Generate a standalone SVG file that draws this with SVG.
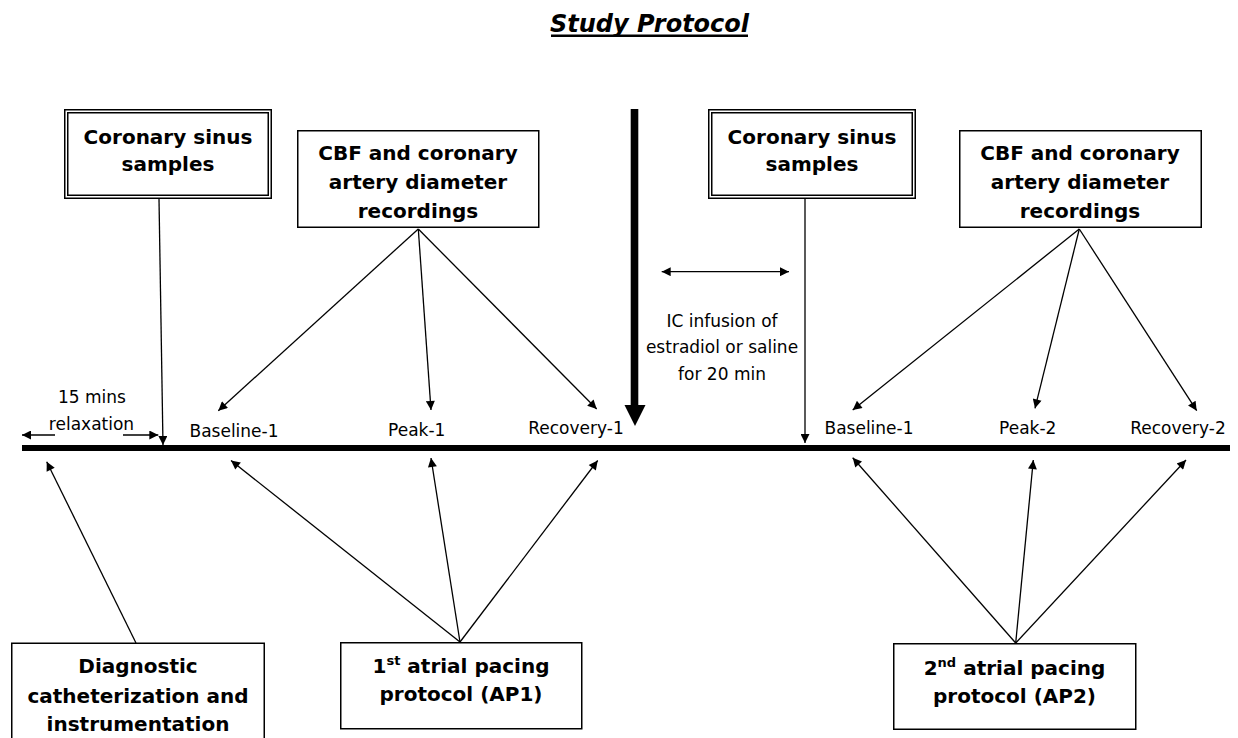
<svg xmlns="http://www.w3.org/2000/svg" width="1238" height="738" viewBox="0 0 1238 738">
<style>
.box{fill:#fff;stroke:#000;stroke-width:1.5}
.bt{font-family:"DejaVu Sans","Liberation Sans",sans-serif;font-weight:bold;font-size:20px;text-anchor:middle;fill:#000}
.lb{font-family:"DejaVu Sans","Liberation Sans",sans-serif;font-size:17px;text-anchor:middle;fill:#000}
.ln{fill:none;stroke:#000;stroke-width:1.3;marker-end:url(#ah)}
.dl{fill:none;stroke:#000;stroke-width:1.3;marker-end:url(#ah);marker-start:url(#ah)}
.sup{font-size:13px}
</style>
<defs>
<marker id="ah" viewBox="0 0 10 10" refX="10" refY="5" markerUnits="userSpaceOnUse" markerWidth="11" markerHeight="9" orient="auto-start-reverse">
<path d="M0,0 L10,5 L0,10 z" fill="#000"/>
</marker>
</defs>
<rect width="1238" height="738" fill="#fff"/>
<g id="title">
<text x="649.5" y="32" style="font-family:'DejaVu Sans','Liberation Sans',sans-serif;font-weight:bold;font-style:italic;font-size:24px;text-anchor:middle">Study Protocol</text>
<line x1="551" y1="35.8" x2="748" y2="35.8" stroke="#000" stroke-width="2.5"/>
</g>
<g id="timeline">
<rect x="22" y="445" width="1208" height="6" fill="#000"/>
</g>
<g id="connectors">
<path class="ln" d="M159,199 L163,445"/>
<path class="ln" d="M805,199 L805,443"/>
<path class="ln" d="M418.3,229 L218.3,410.7"/>
<path class="ln" d="M418.3,229 L431,410"/>
<path class="ln" d="M418.3,229 L596.7,409"/>
<path class="ln" d="M1079.3,229 L852.7,410"/>
<path class="ln" d="M1079.3,229 L1035,408.3"/>
<path class="ln" d="M1079.3,229 L1196.7,410.7"/>
<path class="ln" d="M136,643 L46.7,461.7"/>
<path class="ln" d="M460,642 L231,460.5"/>
<path class="ln" d="M460,642 L431,458"/>
<path class="ln" d="M460,642 L597.7,460.5"/>
<path class="ln" d="M1015.7,643 L852.7,457.7"/>
<path class="ln" d="M1015.7,643 L1033.3,460"/>
<path class="ln" d="M1015.7,643 L1186,460"/>
<path class="ln" d="M55,435 L22,435"/>
<path class="ln" d="M123,435 L158.3,435"/>
<path class="dl" d="M661.7,271.7 L789,271.7"/>
<g id="infusion-arrow">
<rect x="630.7" y="109" width="7.6" height="297" fill="#000"/>
<path d="M624.5,405 L645.5,405 L635,426 z" fill="#000"/>
</g>
</g>
<g id="cs1">
<rect x="64.75" y="109.75" width="206.5" height="88.5" class="box"/>
<rect x="67.75" y="112.75" width="200.5" height="82.5" class="box"/>
<text class="bt" x="168" y="144">Coronary sinus</text>
<text class="bt" x="168" y="171">samples</text>
</g>
<g id="cbf1">
<rect x="297.75" y="130.75" width="241" height="96.5" class="box"/>
<text class="bt" x="418" y="160">CBF and coronary</text>
<text class="bt" x="418" y="189">artery diameter</text>
<text class="bt" x="418" y="218">recordings</text>
</g>
<g id="cs2">
<rect x="708.75" y="109.75" width="206.5" height="88.5" class="box"/>
<rect x="711.75" y="112.75" width="200.5" height="82.5" class="box"/>
<text class="bt" x="812" y="144">Coronary sinus</text>
<text class="bt" x="812" y="171">samples</text>
</g>
<g id="cbf2">
<rect x="959.75" y="130.75" width="241.5" height="96.5" class="box"/>
<text class="bt" x="1080" y="160">CBF and coronary</text>
<text class="bt" x="1080" y="189">artery diameter</text>
<text class="bt" x="1080" y="218">recordings</text>
</g>
<g id="diag">
<rect x="11.75" y="643.25" width="252.5" height="110" class="box"/>
<text class="bt" x="138" y="673">Diagnostic</text>
<text class="bt" x="138" y="702.5">catheterization and</text>
<text class="bt" x="138" y="731">instrumentation</text>
</g>
<g id="ap1">
<rect x="340.75" y="642.75" width="241" height="86" class="box"/>
<text class="bt" x="461" y="673">1<tspan class="sup" dy="-8">st</tspan><tspan dy="8"> atrial pacing</tspan></text>
<text class="bt" x="461" y="700.5">protocol (AP1)</text>
</g>
<g id="ap2">
<rect x="893.75" y="643.75" width="242" height="85.5" class="box"/>
<text class="bt" x="1014.5" y="675">2<tspan class="sup" dy="-8">nd</tspan><tspan dy="8"> atrial pacing</tspan></text>
<text class="bt" x="1014.5" y="702.5">protocol (AP2)</text>
</g>
<g id="labels">
<text class="lb" x="92" y="403">15 mins</text>
<text class="lb" x="91.5" y="430">relaxation</text>
<text class="lb" x="234" y="436.5">Baseline-1</text>
<text class="lb" x="416.7" y="436">Peak-1</text>
<text class="lb" x="576" y="434">Recovery-1</text>
<text class="lb" x="869" y="434">Baseline-1</text>
<text class="lb" x="1027.7" y="434">Peak-2</text>
<text class="lb" x="1178" y="434">Recovery-2</text>
<text class="lb" x="722" y="327.3">IC infusion of</text>
<text class="lb" x="722" y="353.3">estradiol or saline</text>
<text class="lb" x="722" y="380">for 20 min</text>
</g>
</svg>
